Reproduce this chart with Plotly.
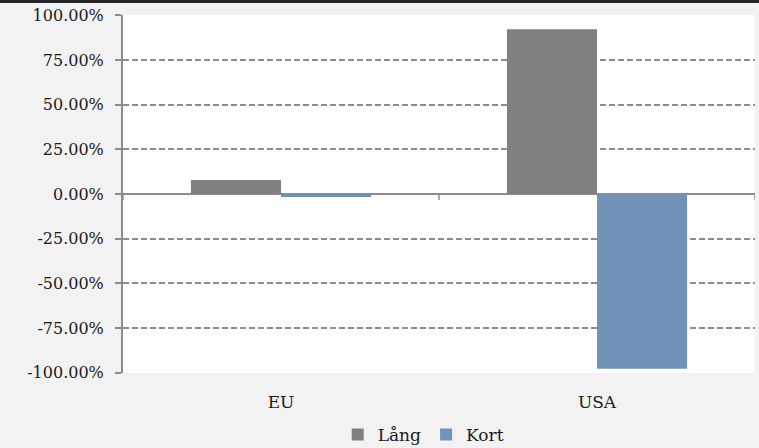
import plotly.graph_objects as go

categories = ["EU", "USA"]
lang_values = [0.078, 0.922]
kort_values = [-0.017, -0.978]
y_ticks = [-1.0, -0.75, -0.5, -0.25, 0.0, 0.25, 0.5, 0.75, 1.0]
y_tick_labels = ["-100.00%", "-75.00%", "-50.00%", "-25.00%", "0.00%",
                 "25.00%", "50.00%", "75.00%", "100.00%"]

font_family = "'DejaVu Serif', Georgia, serif"
grid_color = "#8c8c8c"

fig = go.Figure()
fig.add_trace(go.Bar(x=categories, y=lang_values, name="Lång",
                     marker=dict(color="#808080", line=dict(width=0))))
fig.add_trace(go.Bar(x=categories, y=kort_values, name="Kort",
                     marker=dict(color="#7193b8", line=dict(width=0))))

fig.update_layout(
    width=759, height=448,
    margin=dict(l=123, r=4, t=15, b=75, autoexpand=False),
    paper_bgcolor="#f2f2f2",
    plot_bgcolor="#ffffff",
    barmode="group",
    bargap=0.43,
    bargroupgap=0,
    font=dict(family=font_family, size=16, color="#1a1a1a"),
    legend=dict(orientation="h", x=0.475, xanchor="center",
                yref="container", y=(448 - 435) / 448,
                yanchor="middle", font=dict(size=17), itemwidth=30,
                traceorder="normal", bgcolor="rgba(0,0,0,0)"),
    showlegend=True,
)
fig.update_yaxes(
    range=[-1.002, 1.002],
    tickvals=y_ticks, ticktext=y_tick_labels,
    showgrid=True, gridcolor=grid_color, griddash="6px,3px", gridwidth=1.5,
    zeroline=True, zerolinecolor=grid_color, zerolinewidth=1.5,
    showline=True, linecolor=grid_color, linewidth=2,
    ticks="outside", ticklen=6, tickcolor=grid_color, tickwidth=1.5,
    ticklabelstandoff=8,
    tickfont=dict(size=16),
)
fig.update_xaxes(
    range=[-0.5, len(categories) - 0.5],
    showgrid=False, showline=False, ticks="", ticklabelstandoff=17,
    tickfont=dict(size=17),
)
# category boundary tick marks crossing the zero line (Excel style)
for i in range(len(categories) + 1):
    fig.add_shape(type="line", xref="x", yref="y",
                  x0=i - 0.5, x1=i - 0.5, y0=0, y1=-0.034,
                  line=dict(color=grid_color, width=1.5))
fig.add_shape(type="rect", xref="paper", yref="paper",
              x0=-0.25, x1=1.02, y0=1 + 12 / 358, y1=1 + 16 / 358,
              fillcolor="#262626", line=dict(width=0), layer="above")
fig.write_html(
    "out.html",
    config={"displayModeBar": False},
    post_script="document.body.style.margin='0';"
                "document.body.style.background='#f2f2f2';",
)
